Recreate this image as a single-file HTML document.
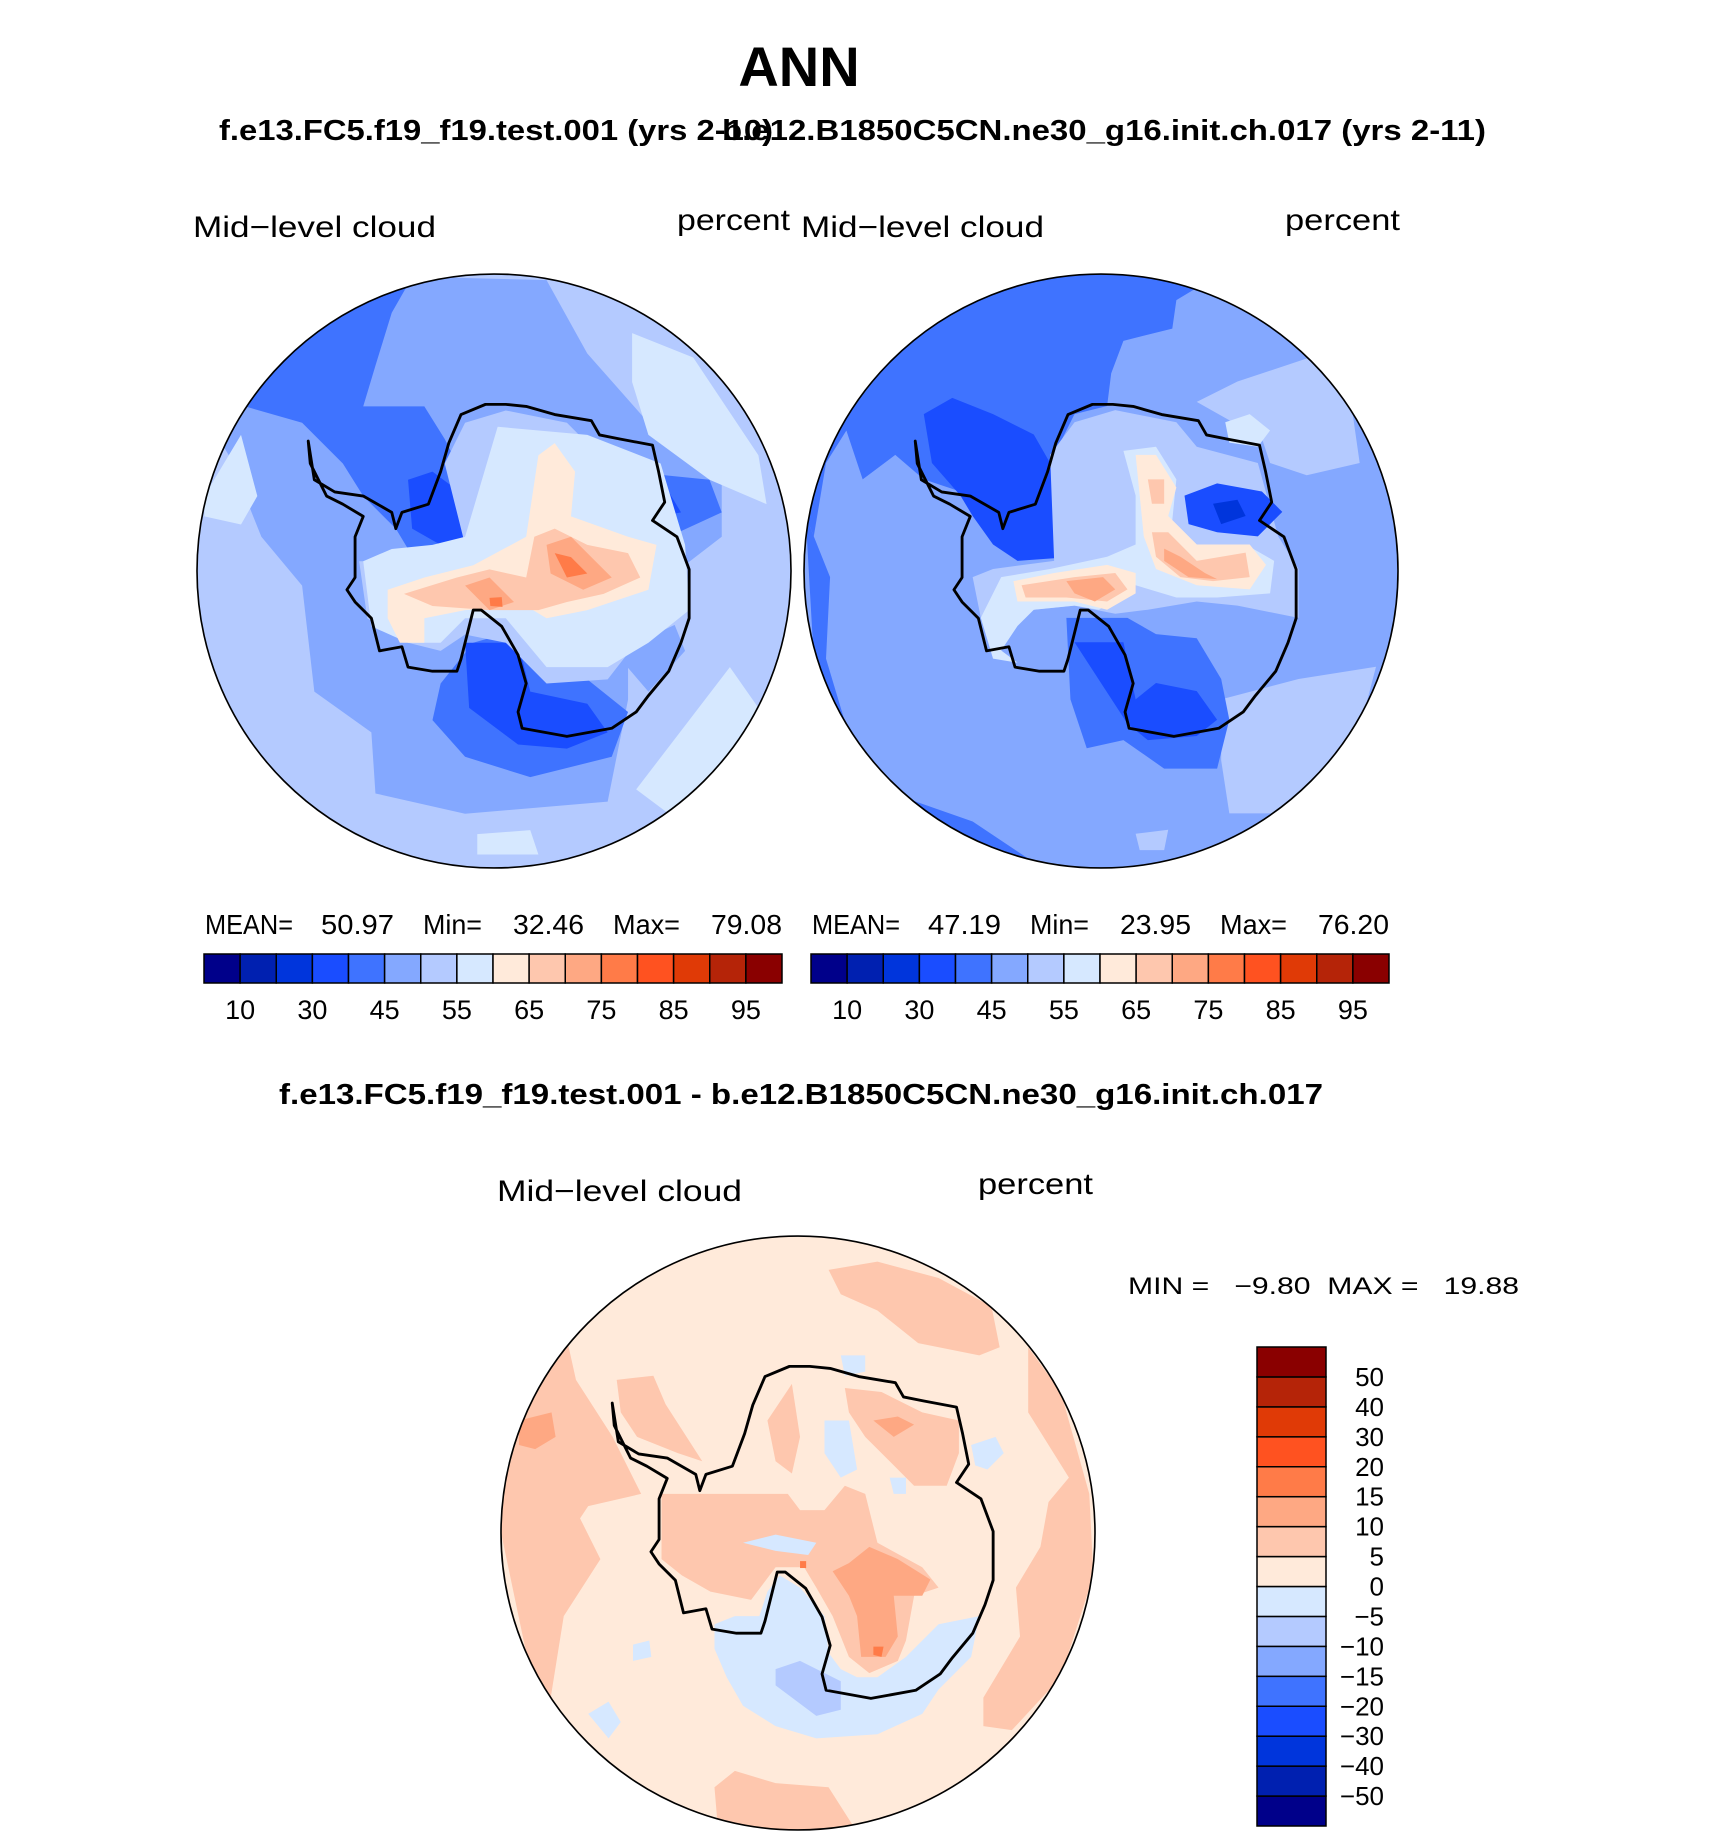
<!DOCTYPE html>
<html><head><meta charset="utf-8"><style>
html,body{margin:0;padding:0;background:#fff;}
svg{display:block;font-family:"Liberation Sans",sans-serif;}
</style></head><body>
<svg id="fig" width="1710" height="1839" viewBox="0 0 1710 1839" xmlns="http://www.w3.org/2000/svg">
<defs>
<clipPath id="cL"><circle cx="771" cy="784" r="729"/></clipPath>
<clipPath id="cR"><circle cx="765" cy="785" r="730"/></clipPath>
<clipPath id="cB"><circle cx="755" cy="796" r="730"/></clipPath>
</defs>
<text x="799" y="86" text-anchor="middle" font-size="56" font-weight="bold">ANN</text>
<text x="219" y="140" font-size="29" font-weight="bold" textLength="554" lengthAdjust="spacingAndGlyphs">f.e13.FC5.f19_f19.test.001 (yrs 2-10)</text>
<text x="722" y="140" font-size="29" font-weight="bold" textLength="764" lengthAdjust="spacingAndGlyphs">b.e12.B1850C5CN.ne30_g16.init.ch.017 (yrs 2-11)</text>

<text x="193" y="237" font-size="30" textLength="243" lengthAdjust="spacingAndGlyphs">Mid−level cloud</text>
<text x="677" y="230" font-size="30" textLength="113" lengthAdjust="spacingAndGlyphs">percent</text>
<text x="801" y="237" font-size="30" textLength="243" lengthAdjust="spacingAndGlyphs">Mid−level cloud</text>
<text x="1285" y="230" font-size="30" textLength="115" lengthAdjust="spacingAndGlyphs">percent</text>

<g id="mapL" transform="translate(494,571) scale(0.4074) translate(-771,-784)"></g>
<g id="mapR" transform="translate(1101,571) scale(0.4074) translate(-765,-785)"></g>
<g id="mapB" transform="translate(798,1533) scale(0.4074) translate(-755,-796)"></g>

<g id="statsL" font-size="28">
<text x="205" y="934" textLength="88" lengthAdjust="spacingAndGlyphs">MEAN=</text>
<text x="321" y="934" textLength="73" lengthAdjust="spacingAndGlyphs">50.97</text>
<text x="423" y="934" textLength="59" lengthAdjust="spacingAndGlyphs">Min=</text>
<text x="513" y="934" textLength="71" lengthAdjust="spacingAndGlyphs">32.46</text>
<text x="613" y="934" textLength="67" lengthAdjust="spacingAndGlyphs">Max=</text>
<text x="711" y="934" textLength="71" lengthAdjust="spacingAndGlyphs">79.08</text>
</g>
<g id="statsR" font-size="28" transform="translate(607,0)">
<text x="205" y="934" textLength="88" lengthAdjust="spacingAndGlyphs">MEAN=</text>
<text x="321" y="934" textLength="73" lengthAdjust="spacingAndGlyphs">47.19</text>
<text x="423" y="934" textLength="59" lengthAdjust="spacingAndGlyphs">Min=</text>
<text x="513" y="934" textLength="71" lengthAdjust="spacingAndGlyphs">23.95</text>
<text x="613" y="934" textLength="67" lengthAdjust="spacingAndGlyphs">Max=</text>
<text x="711" y="934" textLength="71" lengthAdjust="spacingAndGlyphs">76.20</text>
</g>
<g id="cbL"></g>
<g id="cbR"></g>

<text x="279" y="1104" font-size="29" font-weight="bold" textLength="1044" lengthAdjust="spacingAndGlyphs">f.e13.FC5.f19_f19.test.001 - b.e12.B1850C5CN.ne30_g16.init.ch.017</text>
<text x="497" y="1201" font-size="30" textLength="245" lengthAdjust="spacingAndGlyphs">Mid−level cloud</text>
<text x="978" y="1194" font-size="30" textLength="115" lengthAdjust="spacingAndGlyphs">percent</text>
<text x="1128" y="1294" font-size="24" textLength="391" lengthAdjust="spacingAndGlyphs" xml:space="preserve">MIN =   −9.80  MAX =   19.88</text>
<g id="cbB"></g>
</svg>
<script>
// Colorbar data
const absLevels = [10,20,30,40,45,50,55,60,65,70,75,80,85,90,95];
const absLabels = ["10","30","45","55","65","75","85","95"];
const absColors = ["#00008a","#0020b0","#0035dc","#1a4dff","#3f73ff","#84a8ff","#b4caff","#d6e8ff","#ffeada","#fec7ae","#fea883","#ff7b48","#ff5220","#e03a06","#b52408","#8a0000"];
const diffLevels = [-50,-40,-30,-20,-15,-10,-5,0,5,10,15,20,30,40,50];
const diffLabels = ["−50","−40","−30","−20","−15","−10","−5","0","5","10","15","20","30","40","50"];

const NS="http://www.w3.org/2000/svg";
function mk(tag,attrs,parent){const e=document.createElementNS(NS,tag);for(const k in attrs)e.setAttribute(k,attrs[k]);parent.appendChild(e);return e;}

function hbar(gid,x0,x1,y0,y1){
  const g=document.getElementById(gid);
  const n=absColors.length, w=(x1-x0)/n;
  absColors.forEach((c,i)=>{
    const r=mk('rect',{x:x0+i*w,y:y0,width:w,height:y1-y0,fill:c,stroke:'#000','stroke-width':1.5},g);
    
    
  });
  absLevels.forEach((lv,i)=>{
    if(i%2!==0)return;
    const t=mk('text',{x:x0+(i+1)*w,y:y1+36,'font-size':27,'text-anchor':'middle'},g);
    t.textContent=absLabels[i/2];
    
    
  });
}
hbar('cbL',204,782,954,983);
hbar('cbR',811,1389,954,983);

(function(){
  const g=document.getElementById('cbB');
  const x0=1257,x1=1326,y0=1347,y1=1826,n=absColors.length,h=(y1-y0)/n;
  absColors.forEach((c,i)=>{
    const r=mk('rect',{x:x0,y:y1-(i+1)*h,width:x1-x0,height:h,fill:c,stroke:'#000','stroke-width':1.5},g);
    
    
  });
  diffLevels.forEach((lv,i)=>{
    const t=mk('text',{x:1384,y:y1-(i+1)*h+9,'font-size':26,'text-anchor':'end'},g);
    t.textContent=diffLabels[i];
    
    
  });
})();

const coast=[[315,465],[330,560],[380,590],[450,600],[520,640],[530,680],[545,640],[610,620],[640,540],[660,470],[690,400],[750,375],[800,375],[850,380],[920,400],[1010,415],[1030,450],[1080,460],[1160,475],[1175,540],[1190,615],[1160,660],[1220,700],[1250,780],[1250,900],[1230,960],[1200,1030],[1150,1090],[1120,1130],[1060,1170],[950,1190],[840,1170],[830,1130],[850,1060],[830,990],[790,920],[740,880],[720,880],[710,920],[690,1000],[680,1030],[620,1030],[560,1020],[545,970],[490,980],[470,900],[430,860],[410,830],[430,800],[430,700],[450,650],[400,620],[360,600],[320,520]];

const shapesL=[
["#84a8ff",[[230,280],[500,60],[900,70],[1000,250],[1150,420],[1330,560],[1330,700],[1200,800],[1100,900],[1100,1100],[1050,1350],[700,1380],[480,1330],[470,1180],[330,1080],[300,820],[200,700],[120,500],[90,450]]],
["#d6e8ff",[[1110,200],[1260,260],[1420,500],[1440,620],[1300,560],[1150,450],[1110,320]]],
["#d6e8ff",[[1120,1320],[1350,1020],[1420,1120],[1330,1330],[1200,1380]]],
["#d6e8ff",[[60,600],[150,450],[190,600],[150,670],[60,650]]],
["#d6e8ff",[[730,1430],[860,1420],[880,1480],[730,1480]]],
["#3f73ff",[[230,280],[400,120],[560,80],[520,150],[480,280],[450,380],[600,380],[650,460],[720,600],[780,700],[640,760],[560,730],[530,680],[450,600],[400,520],[300,420],[160,380]]],
["#3f73ff",[[620,1150],[640,1060],[720,960],[860,920],[1000,1050],[1100,1130],[1060,1240],[860,1290],[700,1240]]],
["#3f73ff",[[990,600],[1100,540],[1300,560],[1330,640],[1200,700],[1050,700]]],
["#84a8ff",[[1070,920],[1200,880],[1240,980],[1150,1080],[1090,1010]]],
["#1a4dff",[[560,560],[620,540],[700,600],[730,700],[640,720],[570,680]]],
["#1a4dff",[[700,960],[830,960],[860,1080],[1000,1110],[1050,1180],[950,1220],[830,1210],[710,1120]]],
["#1a4dff",[[1000,630],[1100,590],[1200,590],[1230,640],[1130,660],[1030,670]]],
["#b4caff",[[650,520],[700,420],[800,390],[950,420],[1000,470],[1150,510],[1230,700],[1250,900],[1120,960],[1050,1050],[900,1060],[800,960],[700,940],[640,980],[560,960],[460,900],[440,760],[560,760],[700,720]]],
["#d6e8ff",[[450,760],[520,730],[620,720],[700,700],[780,430],[1000,450],[1180,520],[1240,720],[1250,880],[1150,960],[1050,1020],[900,1020],[800,900],[700,900],[640,960],[560,960],[470,920]]],
["#ffeada",[[510,830],[600,800],[720,770],[850,700],[880,500],[920,470],[970,540],[960,650],[1100,700],[1170,720],[1150,830],[1000,880],[900,900],[850,870],[700,880],[600,900],[600,960],[540,960],[510,900]]],
["#fec7ae",[[550,840],[680,800],[760,780],[850,800],[870,700],[920,680],[1000,720],[1100,740],[1130,800],[1040,840],[950,860],[880,880],[760,880],[620,870]]],
["#fea883",[[900,720],[960,700],[1020,760],[1060,800],[990,830],[910,790]]],
["#fea883",[[700,820],[760,800],[820,860],[760,880]]],
["#ff7b48",[[920,740],[960,750],[1000,790],[950,800]]],
["#ff7b48",[[760,850],[790,848],[792,872],[762,870]]]
];

const shapesR=[
["#3f73ff",[[40,650],[120,430],[300,200],[550,80],[765,30],[1000,90],[950,120],[940,190],[820,220],[790,300],[780,380],[700,400],[640,520],[600,600],[520,660],[450,600],[330,560],[260,500],[180,560],[140,440],[90,520],[60,700]]],
["#3f73ff",[[40,650],[100,800],[90,1000],[150,1200],[250,1330],[450,1400],[600,1500],[420,1450],[200,1300],[60,1000]]],
["#b4caff",[[1000,370],[1100,320],[1280,260],[1380,380],[1400,520],[1270,550],[1180,520],[1160,460]]],
["#b4caff",[[1060,1100],[1250,1050],[1440,1020],[1380,1250],[1250,1380],[1080,1380],[1060,1250]]],
["#b4caff",[[850,1430],[930,1420],[920,1470],[860,1470]]],
["#d6e8ff",[[1070,420],[1130,400],[1180,440],[1150,480],[1080,470]]],
["#3f73ff",[[680,900],[830,900],[900,940],[1000,950],[1060,1050],[1080,1150],[1050,1270],[920,1270],[820,1200],[730,1220],[690,1100]]],
["#1a4dff",[[330,400],[400,360],[500,400],[600,450],[640,520],[720,560],[760,640],[700,750],[560,760],[500,720],[450,650],[420,600],[350,520]]],
["#b4caff",[[640,500],[700,420],[800,390],[950,420],[1000,480],[1150,520],[1200,700],[1250,780],[1250,900],[1100,870],[1000,860],[880,880],[800,890],[700,870],[600,880],[520,880],[470,900],[450,800],[500,780],[650,760]]],
["#1a4dff",[[700,960],[820,960],[850,1100],[900,1060],[1000,1080],[1050,1150],[1000,1190],[880,1200],[830,1160]]],
["#1a4dff",[[970,600],[1050,570],[1160,590],[1210,640],[1150,700],[1050,690],[980,670]]],
["#0035dc",[[1040,620],[1100,610],[1120,650],[1060,670]]],
["#d6e8ff",[[820,490],[900,480],[950,560],[940,660],[1000,720],[1120,720],[1190,760],[1180,840],[1050,850],[950,850],[850,820],[760,880],[700,870],[600,880],[560,920],[520,980],[560,1010],[500,1000],[470,900],[520,800],[640,780],[780,750],[850,720],[850,600]]],
["#ffeada",[[850,500],[900,500],[950,580],[930,650],[1000,720],[1130,720],[1170,770],[1130,830],[1000,820],[900,780],[870,700],[860,600]]],
["#ffeada",[[550,810],[650,790],[780,770],[850,790],[850,840],[780,880],[700,860],[560,860]]],
["#fec7ae",[[880,560],[920,560],[920,620],[890,620]]],
["#fec7ae",[[890,690],[930,690],[1000,760],[1120,740],[1130,800],[1040,810],[960,800],[900,750]]],
["#fec7ae",[[570,820],[700,800],[800,790],[830,830],[780,860],[680,850],[580,850]]],
["#fea883",[[920,730],[960,750],[1020,790],[1050,805],[980,800],[920,760]]],
["#fea883",[[680,810],[770,800],[800,830],[750,860],[700,840]]]
];

const shapesB=[
["#fec7ae",[[25,790],[40,600],[120,420],[190,330],[210,420],[300,560],[370,700],[240,730],[220,760],[270,860],[180,1000],[140,1250],[90,1100]]],
["#fec7ae",[[830,150],[950,130],[1100,170],[1230,240],[1250,340],[1200,360],[1050,330],[950,250],[860,210]]],
["#fec7ae",[[1320,340],[1400,450],[1470,700],[1480,900],[1400,1150],[1280,1280],[1210,1270],[1210,1200],[1300,1050],[1290,930],[1350,830],[1370,720],[1420,660],[1320,500]]],
["#fec7ae",[[550,1420],[600,1380],[700,1410],[830,1420],[900,1530],[760,1555],[560,1540]]],
["#fec7ae",[[310,420],[400,410],[430,480],[520,620],[460,600],[360,560],[320,500]]],
["#fec7ae",[[420,700],[600,700],[730,700],[760,740],[820,740],[870,680],[920,700],[950,820],[1060,880],[1100,930],[1040,950],[1020,1060],[1000,1110],[930,1140],[880,1100],[840,1000],[800,930],[770,880],[700,880],[640,960],[540,940],[470,900],[420,860]]],
["#fec7ae",[[870,440],[960,450],[1060,500],[1150,520],[1150,600],[1120,680],[1040,680],[980,620],[920,560],[880,500]]],
["#fec7ae",[[680,520],[740,430],[760,560],[740,650],[700,620]]],
["#fea883",[[930,830],[1000,860],[1080,910],[1060,950],[990,950],[1000,1050],[970,1100],[910,1100],[900,1000],[880,950],[840,890],[880,870]]],
["#fea883",[[940,520],[1000,510],[1040,530],[990,560]]],
["#fea883",[[70,520],[150,500],[160,560],[110,590],[70,580]]],
["#ff7b48",[[940,1075],[965,1075],[960,1100],[940,1095]]],
["#ff7b48",[[760,865],[775,865],[775,882],[760,882]]],
["#d6e8ff",[[550,1020],[600,1000],[660,1000],[680,940],[710,900],[760,930],[820,1000],[830,1090],[860,1130],[900,1150],[950,1150],[1020,1100],[1100,1020],[1200,1000],[1180,1100],[1100,1180],[1060,1240],[950,1290],[800,1300],[700,1270],[620,1220],[580,1150],[550,1080]]],
["#b4caff",[[700,1130],[760,1110],[860,1160],[860,1230],[800,1245],[700,1170]]],
["#d6e8ff",[[240,1240],[290,1210],[320,1260],[290,1300]]],
["#d6e8ff",[[350,1070],[390,1060],[395,1100],[350,1110]]],
["#d6e8ff",[[1180,580],[1240,560],[1260,600],[1220,640],[1190,630]]],
["#d6e8ff",[[820,520],[880,520],[900,640],[860,660],[820,600]]],
["#d6e8ff",[[980,660],[1020,660],[1020,700],[990,700]]],
["#d6e8ff",[[860,360],[920,360],[920,400],[870,410]]],
["#d6e8ff",[[620,820],[700,800],[800,820],[780,850],[700,840]]]
];

function pts(a){return a.map(p=>p.join(',')).join(' ');}
function drawMap(gid,clip,cx,cy,base,shapes){
  const g=document.getElementById(gid);
  const inner=mk('g',{'clip-path':'url(#'+clip+')'},g);
  mk('circle',{cx:cx,cy:cy,r:730,fill:base},inner);
  const dx=cx-771, dy=cy-784;
  shapes.forEach(s=>{
    const p=mk('polygon',{points:pts(s[1]),fill:s[0],'stroke-linejoin':'round'},inner);
    
    
  });
  const c=mk('polygon',{points:pts(coast.map(q=>[q[0]+dx,q[1]+dy])),fill:'none',stroke:'#000','stroke-width':7,'stroke-linejoin':'round'},g);
  
  
  const o=mk('circle',{cx:cx,cy:cy,r:729,fill:'none',stroke:'#000','stroke-width':4},g);
  
  
}
drawMap('mapL','cL',771,784,'#b4caff',shapesL);
drawMap('mapR','cR',765,785,'#84a8ff',shapesR);
drawMap('mapB','cB',755,796,'#ffeada',shapesB);
</script>
</body></html>
